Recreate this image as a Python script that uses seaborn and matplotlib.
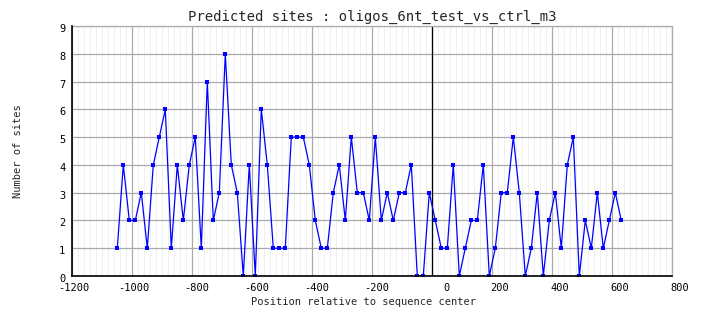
import numpy as np
import pandas as pd
import matplotlib
matplotlib.use("Agg")
import matplotlib.pyplot as plt
import matplotlib.transforms as mtransforms
import seaborn as sns

# ---- data ----
positions = list(range(-1050, 631, 20))
sites = [1, 4, 2, 2, 3, 1, 4, 5, 6, 1,
         4, 2, 4, 5, 1, 7, 2, 3, 8, 4,
         3, 0, 4, 0, 6, 4, 1, 1, 1, 5,
         5, 5, 4, 2, 1, 1, 3, 4, 2, 5,
         3, 3, 2, 5, 2, 3, 2, 3, 3, 4,
         0, 0, 3, 2, 1, 1, 4, 0, 1, 2,
         2, 4, 0, 1, 3, 3, 5, 3, 0, 1,
         3, 0, 2, 3, 1, 4, 5, 0, 2, 1,
         3, 1, 2, 3, 2]
x_ticks = [-1200, -1000, -800, -600, -400, -200, 0, 200, 400, 600, 800]
y_ticks = [0, 1, 2, 3, 4, 5, 6, 7, 8, 9]
title = "Predicted sites : oligos_6nt_test_vs_ctrl_m3"
xlabel = "Position relative to sequence center"
ylabel = "Number of sites"

df = pd.DataFrame({"pos": positions, "sites": sites})

sns.set_style("white")
plt.rcParams['font.family'] = ['DejaVu Sans Mono', 'DejaVu Sans']

fig = plt.figure(figsize=(7.04, 3.28), dpi=100)
ax = fig.add_axes([72.3 / 704, 52 / 328, 600 / 704, 250 / 328])

# minor vertical grid
for xm in np.arange(-1200, 801, 20):
    ax.axvline(xm, color="#efefef", lw=0.7, zorder=0)
for xM in x_ticks:
    ax.axvline(xM, color="#aaaaaa", lw=0.9, zorder=0.5)
for yM in y_ticks:
    ax.axhline(yM, color="#aaaaaa", lw=0.9, zorder=0.5)
ax.axvline(0, color="black", lw=0.9, zorder=1)

sns.lineplot(data=df, x="pos", y="sites", ax=ax, color="#0000ff",
             marker="s", markersize=2.4, markeredgewidth=0, lw=0.9, zorder=3)

ax.set_xlim(-1200, 800)
ax.set_ylim(0, 9)
ax.set_xticks(x_ticks)
ax.set_xticklabels([str(v) for v in x_ticks])
ax.set_yticks(y_ticks)
ax.set_yticklabels([str(v) for v in y_ticks])
ax.tick_params(axis="both", length=0, labelsize=7.5, colors="black")
ax.tick_params(axis="x", pad=5)
ax.tick_params(axis="y", pad=5)

offx = mtransforms.ScaledTranslation(0.17, 0, fig.dpi_scale_trans)
for lab in ax.get_xticklabels():
    lab.set_ha("right")
    lab.set_transform(lab.get_transform() + offx)
offy = mtransforms.ScaledTranslation(0, -0.02, fig.dpi_scale_trans)
for lab in ax.get_yticklabels():
    lab.set_transform(lab.get_transform() + offy)

for side in ["top", "right"]:
    ax.spines[side].set_color("#aaaaaa")
    ax.spines[side].set_linewidth(0.9)
for side in ["left", "bottom"]:
    ax.spines[side].set_color("black")
    ax.spines[side].set_linewidth(1.2)
    ax.spines[side].set_zorder(5)

ax.set_title(title, fontsize=10, pad=4)
ax.set_xlabel(xlabel, fontsize=7.5)
ax.set_ylabel(ylabel, fontsize=7.5)
ax.xaxis.set_label_coords(0.486, -0.104)
ax.yaxis.set_label_coords(-0.09, 0.5)
ax.xaxis.label.set_va("center")
ax.yaxis.label.set_va("center")

fig.savefig("out.png", dpi=100)
